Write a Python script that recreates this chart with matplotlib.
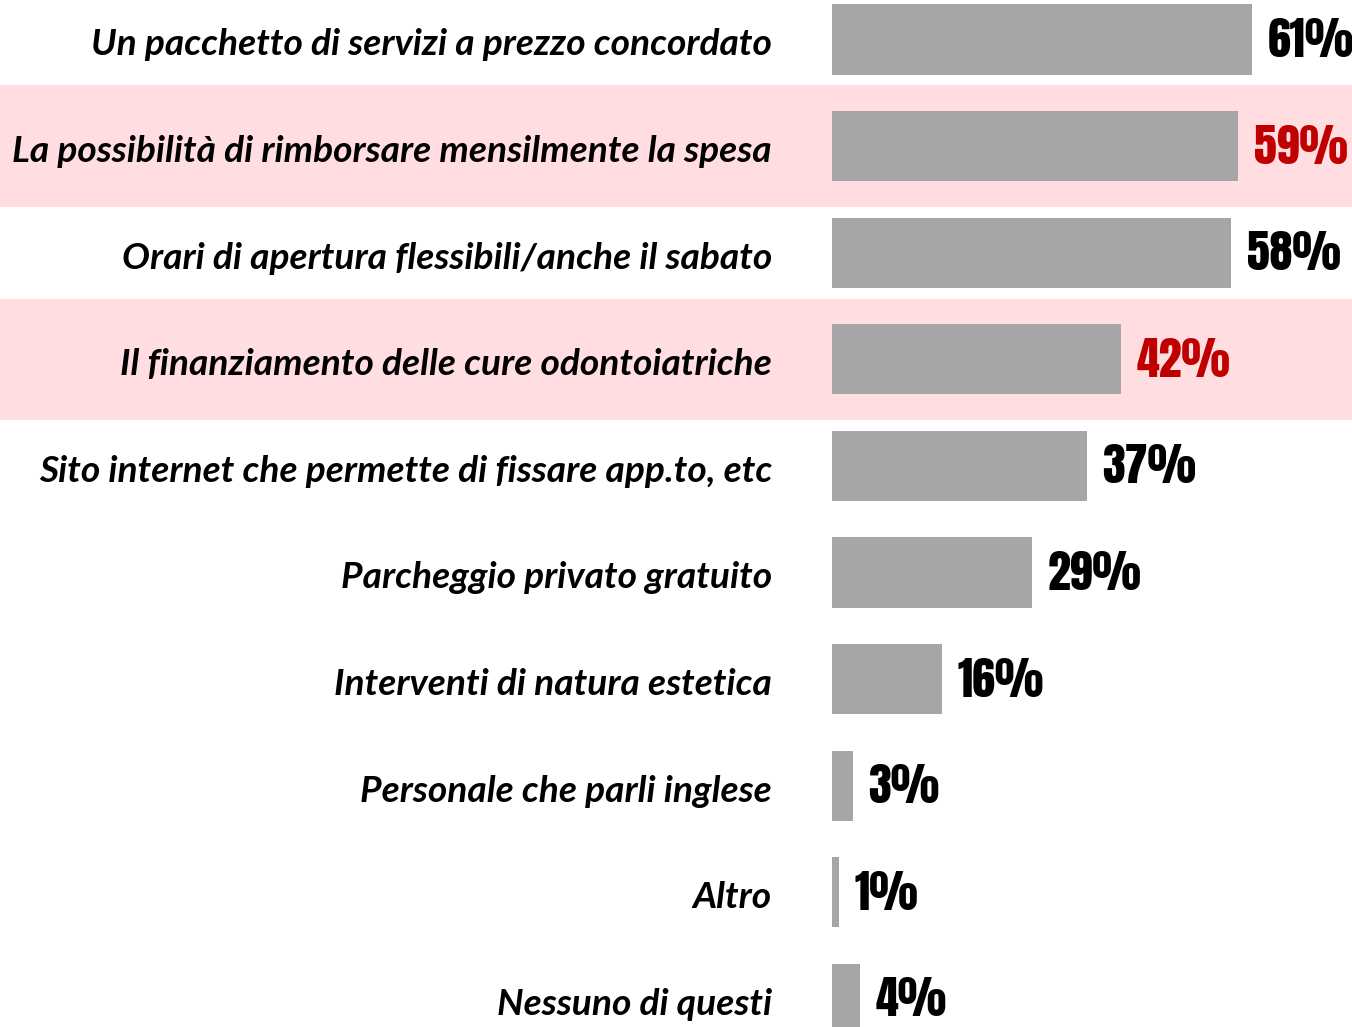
import matplotlib.pyplot as plt

categorie = ['Un pacchetto di servizi a prezzo concordato',
             'La possibilità di rimborsare mensilmente la spesa',
             'Orari di apertura flessibili/anche il sabato',
             'Il finanziamento delle cure odontoiatriche',
             'Sito internet che permette di fissare app.to, etc',
             'Parcheggio privato gratuito',
             'Interventi di natura estetica',
             'Personale che parli inglese',
             'Altro',
             'Nessuno di questi']
valori = [61, 59, 58, 42, 37, 29, 16, 3, 1, 4]
evidenziati = [1, 3]

grigio = '#A6A6A6'
rosa = '#FFDDE0'
rosso = '#C00000'

fig = plt.figure(figsize=(13.52, 10.27), dpi=100)
ax = fig.add_axes([0, 0, 1, 1])

# 1% = ~6.885 px, zero a x=832 px
scala = 6.885
ax.set_xlim(-832 / scala, 520 / scala)
ax.set_ylim((1027 - 39.5) / 106.6, -39.5 / 106.6)

for i in evidenziati:
    ax.axhspan(i - 0.57, i + 0.57, color=rosa, zorder=0, lw=0)

y = list(range(len(categorie)))
ax.barh(y, valori, height=0.657, color=grigio, zorder=2)

for i, (cat, v) in enumerate(zip(categorie, valori)):
    ax.text(-60 / scala, i + 0.05, cat, ha='right', va='center', fontsize=26.7,
            fontweight='bold', fontstyle='italic', family='Lato')
    col = rosso if i in evidenziati else 'black'
    ax.text(v + 2.3, i + 0.01, f'{v}%', ha='left', va='center', fontsize=33,
            family='Anton', color=col)

ax.axis('off')
fig.savefig('out.png', dpi=100)
